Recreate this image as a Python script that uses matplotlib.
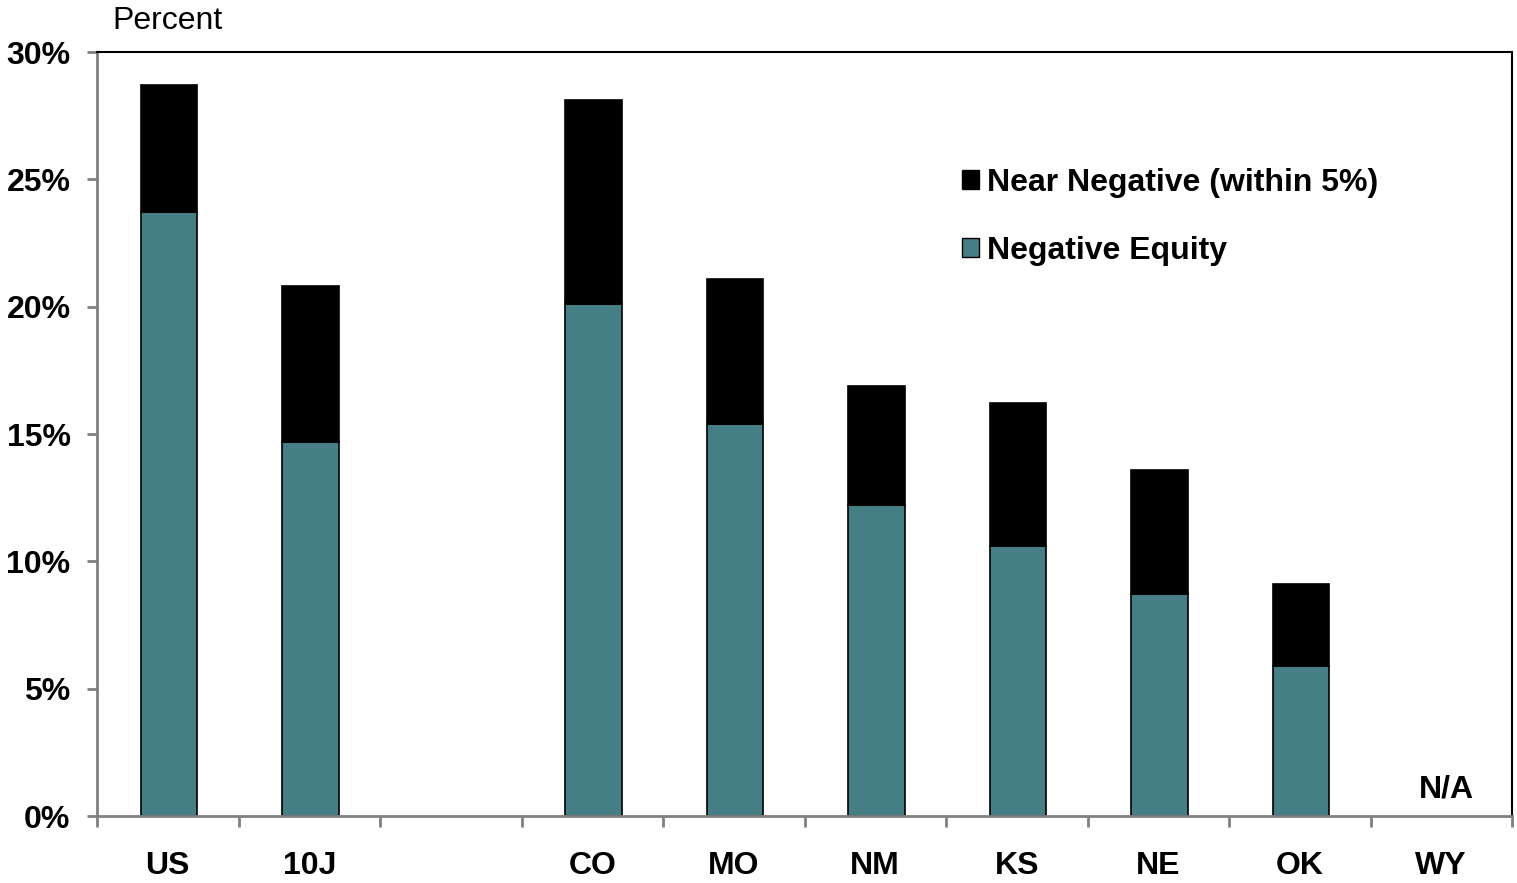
import matplotlib
matplotlib.use("Agg")
import matplotlib.pyplot as plt
from matplotlib.patches import Patch
import numpy as np

# ================= DADOS =================
categories = ["US", "10J", "", "CO", "MO", "NM", "KS", "NE", "OK", "WY"]
negative_equity = [23.7, 14.7, 0, 20.1, 15.4, 12.2, 10.6, 8.7, 5.9, 0]
total_near = [28.7, 20.8, 0, 28.1, 21.1, 16.9, 16.2, 13.6, 9.1, 0]
near_negative = [t - n for t, n in zip(total_near, negative_equity)]
na_label = "N/A"
na_index = 9

TEAL = "#457F85"
GRAY = "#808080"
FS = 23

plt.rcParams['font.family'] = ['Liberation Sans', 'DejaVu Sans']

# ================= FIGURA =================
fig = plt.figure(figsize=(15.17, 8.83), dpi=100)
ax = fig.add_axes([97/1517, 67/883, (1512-97)/1517, (816-52)/883])

x = np.arange(len(categories))
mask = [i for i in range(len(categories)) if total_near[i] > 0]
ax.bar(x[mask] + 0.01, [negative_equity[i] for i in mask], width=0.4,
       color=TEAL, edgecolor="black", linewidth=1.2)
ax.bar(x[mask] + 0.01, [near_negative[i] for i in mask], width=0.4,
       bottom=[negative_equity[i] for i in mask],
       color="black", edgecolor="black", linewidth=1.2)

ax.text(na_index + 0.04, 0.45, na_label, ha="center", va="bottom",
        fontsize=FS, fontweight="bold")

# eixos
ax.set_xlim(-0.5, len(categories) - 0.5)
ax.set_ylim(0, 30)
ax.set_yticks(range(0, 31, 5))
ax.set_yticklabels([f"{v}%" for v in range(0, 31, 5)],
                   fontsize=FS, fontweight="bold")
ax.set_xticks(x)
ax.set_xticklabels(categories, fontsize=FS, fontweight="bold")
ax.tick_params(axis="x", which="major", length=0, pad=25)
ax.set_xticks(np.arange(-0.5, len(categories), 1.0), minor=True)
ax.tick_params(axis="x", which="minor", length=8, width=2, color=GRAY,
               direction="out")
ax.tick_params(axis="y", length=7, width=2, color=GRAY, direction="out", pad=12)

for s in ["left", "bottom"]:
    ax.spines[s].set_color(GRAY)
    ax.spines[s].set_linewidth(2)
for s in ["top", "right"]:
    ax.spines[s].set_color("black")
    ax.spines[s].set_linewidth(1.5)

fig.text(112/1517, 1 - 21/883, "Percent", fontsize=FS, va="center", ha="left")

handles = [Patch(facecolor="black", edgecolor="black"),
           Patch(facecolor=TEAL, edgecolor="black")]
labels = ["Near Negative (within 5%)", "Negative Equity"]
ax.legend(handles, labels, loc="upper left",
          bbox_to_anchor=(949/1517, 1 - 155/883), bbox_transform=fig.transFigure,
          frameon=False, prop={"size": FS, "weight": "bold"},
          handlelength=0.55, handleheight=0.55, handletextpad=0.25,
          labelspacing=1.2, borderaxespad=0)

fig.savefig("out.png", dpi=100)
